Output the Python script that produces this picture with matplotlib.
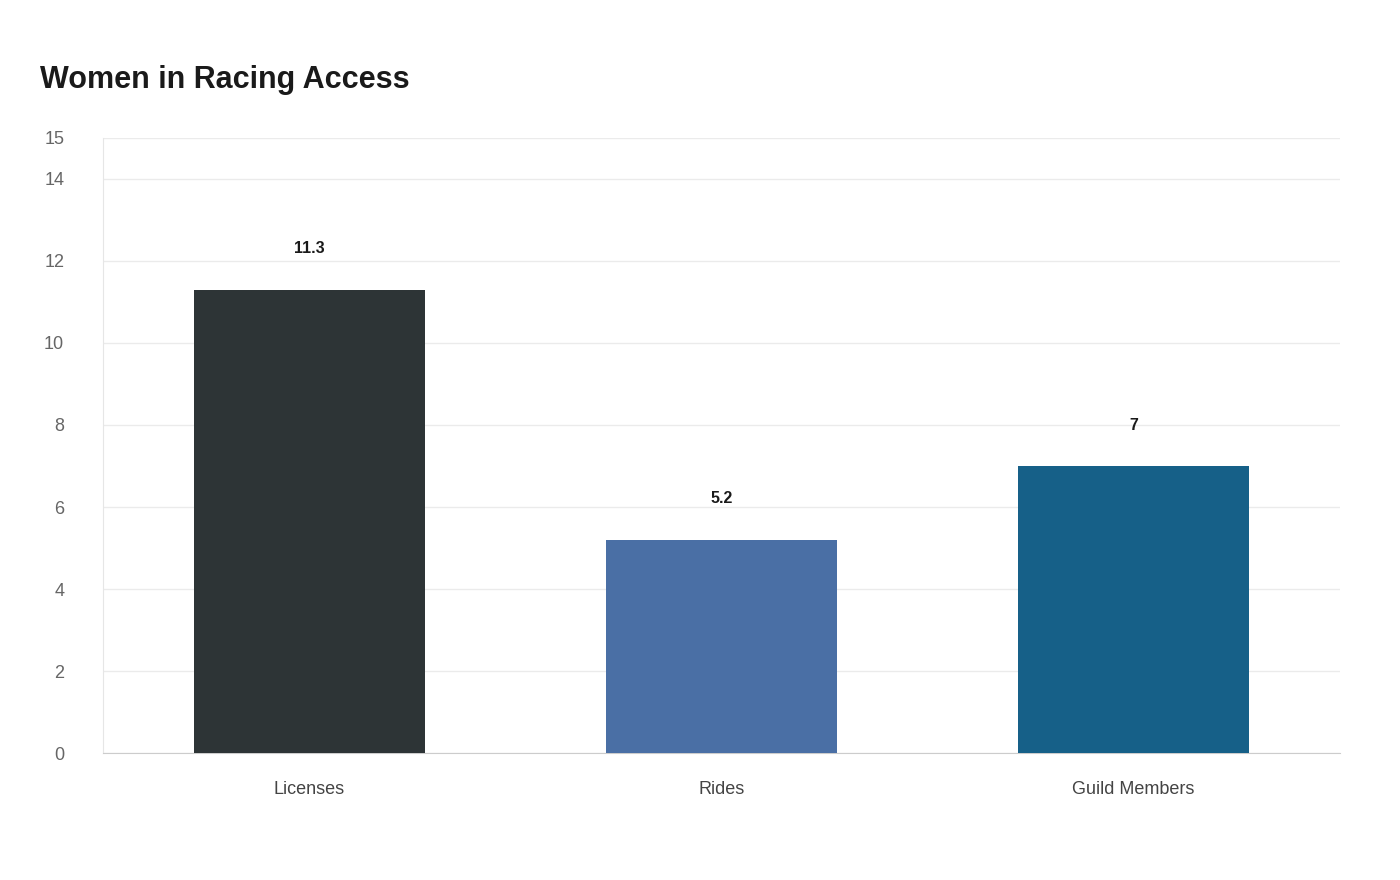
import matplotlib

matplotlib.use("Agg")
import matplotlib.pyplot as plt

categories = ["Licenses", "Rides", "Guild Members"]
values = [11.3, 5.2, 7]
labels = ["11.3", "5.2", "7"]
colors = ["#2d3436", "#4a6fa5", "#166088"]
yticks = [0, 2, 4, 6, 8, 10, 12, 14, 15]

plt.rcParams["font.family"] = ["Liberation Sans", "DejaVu Sans"]

fig = plt.figure(figsize=(14, 8.8), dpi=100)
ax = fig.add_axes([0.0736, 0.1443, 0.8834, 0.6989])

x = list(range(len(categories)))
ax.bar(x, values, width=0.56, color=colors, zorder=3)
for xi, v, lab in zip(x, values, labels):
    ax.annotate(lab, (xi, v), xytext=(0, 24), textcoords="offset points",
                ha="center", va="bottom", fontsize=11.5, fontweight="bold", color="#1a1a1a")

ax.set_xlim(-0.5, 2.5)
ax.set_ylim(0, 15)
ax.set_yticks(yticks)
ax.set_xticks(x)
ax.set_xticklabels(categories)
ax.grid(axis="y", color="#ebebeb", linewidth=1, zorder=0)
ax.tick_params(axis="y", length=0, labelsize=13, labelcolor="#666666", pad=28)
ax.tick_params(axis="x", length=0, labelsize=13, labelcolor="#444444", pad=20)
for lab in ax.get_yticklabels():
    lab.set_horizontalalignment("right")
for side in ["top", "right"]:
    ax.spines[side].set_visible(False)
ax.spines["left"].set_color("#e6e6e6")
ax.spines["bottom"].set_color("#cccccc")

fig.text(40 / 1400, 1 - 80 / 880, "Women in Racing Access", fontsize=22, fontweight="bold",
         color="#1a1a1a", ha="left", va="center")

fig.savefig("out.png", dpi=100)
